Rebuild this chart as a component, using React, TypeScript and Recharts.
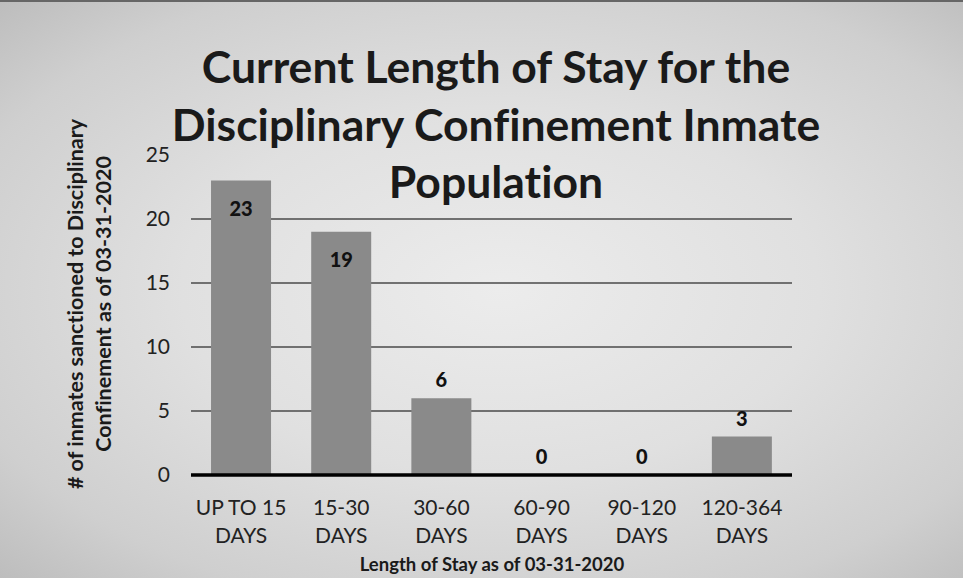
import React from "react";
import { ComposedChart, Bar, Line, XAxis, YAxis, CartesianGrid, LabelList, Customized } from "recharts";

const categories = ["UP TO 15|DAYS", "15-30|DAYS", "30-60|DAYS", "60-90|DAYS", "90-120|DAYS", "120-364|DAYS"];
const inmates = [23, 19, 6, 0, 0, 3];
const yTicks = [0, 5, 10, 15, 20, 25];
const gridValues = [5, 10, 15, 20];
const titleLines = ["Current Length of Stay for the", "Disciplinary Confinement Inmate", "Population"];
const yLabelLines = ["# of inmates sanctioned to Disciplinary", "Confinement as of 03-31-2020"];
const xLabel = "Length of Stay as of 03-31-2020";

const data = categories.map((c, i) => ({ name: c, value: inmates[i] }));
const FONT = "Lato, 'Open Sans', sans-serif";
const noLig = { fontVariantLigatures: "none" as const };

const XTick = (props: any) => {
  const { x, y, payload } = props;
  const parts = String(payload.value).split("|");
  return (
    <text x={x} y={y} textAnchor="middle" fontFamily={FONT} fontSize={21} fill="#222" style={noLig}>
      {parts.map((p: string, i: number) => (
        <tspan key={i} x={x} dy={i === 0 ? 32 : 28}>{p}</tspan>
      ))}
    </text>
  );
};

const ValueLabel = (props: any) => {
  const { x, y, value } = props;
  const inside = value > 15;
  const ty = inside ? y + 35 : y - 11;
  return (
    <text x={x} y={ty} textAnchor="middle" fontFamily={FONT} fontWeight={900} fontSize={20} fill="#111">
      {value}
    </text>
  );
};

const Texts = () => (
  <g fontFamily={FONT} style={noLig}>
    {titleLines.map((t, i) => (
      <text key={i} x={496} y={83 + i * 57.5} textAnchor="middle" fontWeight={700} fontSize={44.5} fill="#1a1a1a" style={noLig}>
        {t}
      </text>
    ))}
    {yLabelLines.map((t, i) => (
      <text key={"y" + i} x={0} y={0} transform={`translate(${83 + i * 28}, 304) rotate(-90)`} textAnchor="middle" fontWeight={700} fontSize={21.5} fill="#1a1a1a" style={noLig}>
        {t}
      </text>
    ))}
    <text x={492} y={571} textAnchor="middle" fontWeight={700} fontSize={18.5} fill="#1a1a1a" style={noLig}>{xLabel}</text>
  </g>
);

export default function App() {
  return (
    <div
      style={{
        position: "absolute",
        left: 0,
        top: 0,
        width: 963,
        height: 578,
        background: "radial-gradient(ellipse at 52% 50%, #ececec 0%, #e0e0e0 45%, #cfcfcf 80%, #bdbdbd 100%)",
        borderTop: "2px solid #666",
        boxSizing: "border-box",
      }}
    >
      <div style={{ position: "absolute", left: 0, top: -2 }}>
        <ComposedChart
          width={963}
          height={578}
          data={data}
          margin={{ top: 155, right: 171, bottom: 33, left: 111 }}
          barCategoryGap="20%"
        >
          <CartesianGrid vertical={false} horizontalValues={gridValues} stroke="#4a4a4a" strokeWidth={1.6} />
          <XAxis
            dataKey="name"
            height={70}
            tick={<XTick />}
            tickLine={false}
            axisLine={{ stroke: "#000", strokeWidth: 3.5 }}
            interval={0}
          />
          <YAxis
            width={80}
            domain={[0, 25]}
            ticks={yTicks}
            tickSize={0}
            tickMargin={21}
            axisLine={false}
            tickLine={false}
            tick={{ fontFamily: FONT, fontSize: 21, fill: "#222" }}
          />
          <Bar dataKey="value" fill="#8a8a8a" isAnimationActive={false} />
          <Line dataKey="value" stroke="none" dot={false} activeDot={false} isAnimationActive={false} legendType="none">
            <LabelList dataKey="value" content={<ValueLabel />} />
          </Line>
          <Customized component={Texts} />
        </ComposedChart>
      </div>
    </div>
  );
}
